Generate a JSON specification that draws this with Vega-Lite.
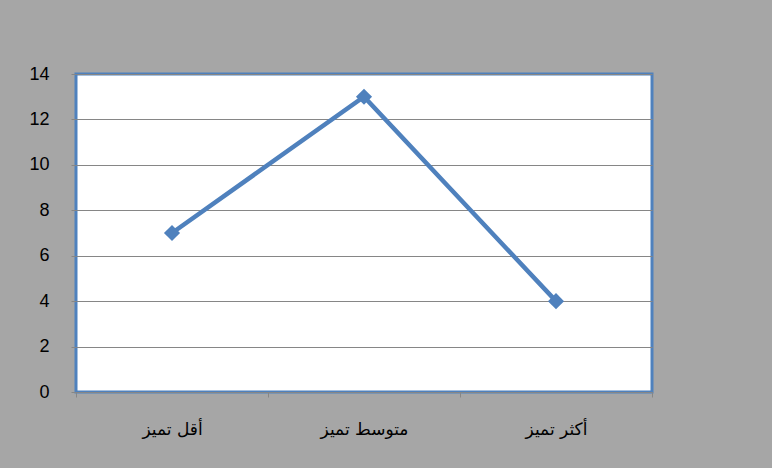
{
  "$schema": "https://vega.github.io/schema/vega-lite/v6.json",
  "autosize": "none",
  "width": 576,
  "height": 318,
  "padding": {"left": 76, "top": 74, "right": 120, "bottom": 76},
  "background": "#A6A6A6",
  "config": {
    "view": {"fill": "#FFFFFF", "stroke": "#4F81BD", "strokeWidth": 3},
    "font": "Liberation Sans"
  },
  "data": {
    "values": [
      {"category": "أقل تميز", "value": 7},
      {"category": "متوسط تميز", "value": 13},
      {"category": "أكثر تميز", "value": 4}
    ]
  },
  "encoding": {
    "x": {
      "field": "category",
      "type": "nominal",
      "sort": ["أقل تميز", "متوسط تميز", "أكثر تميز"],
      "bandPosition": 0.5,
      "scale": {"type": "band", "paddingInner": 0, "paddingOuter": 0},
      "axis": {
        "title": null,
        "labelAngle": 0,
        "labelFontSize": 17,
        "labelColor": "#000000",
        "labelFont": "DejaVu Sans",
        "labelPadding": 24,
        "tickBand": "extent",
        "tickColor": "#868686",
        "tickSize": 5,
        "domain": false,
        "grid": false
      }
    },
    "y": {
      "field": "value",
      "type": "quantitative",
      "scale": {"domain": [0, 14], "nice": false},
      "axis": {
        "title": null,
        "values": [0, 2, 4, 6, 8, 10, 12, 14],
        "labelFontSize": 18,
        "labelColor": "#000000",
        "labelPadding": 22,
        "tickColor": "#868686",
        "tickSize": 5,
        "domain": false,
        "grid": true,
        "gridColor": "#868686",
        "gridWidth": 1.2
      }
    }
  },
  "layer": [
    {"mark": {"type": "line", "color": "#4F81BD", "strokeWidth": 4.5}},
    {"mark": {"type": "point", "shape": "diamond", "filled": true, "color": "#4F81BD", "size": 260, "opacity": 1}}
  ]
}
